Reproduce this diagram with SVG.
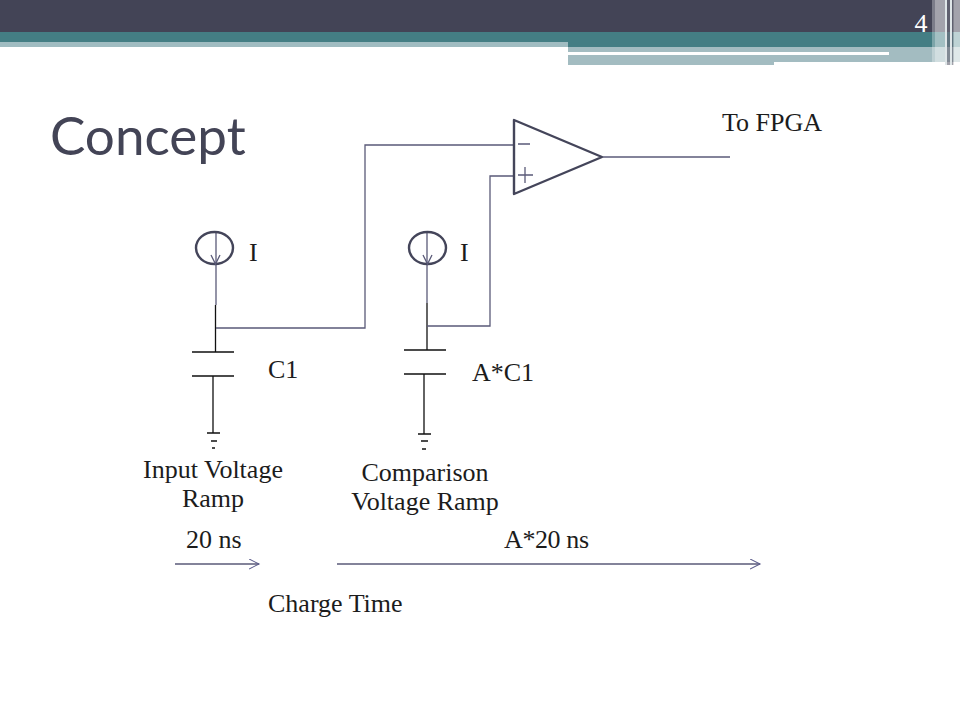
<svg xmlns="http://www.w3.org/2000/svg" width="960" height="720" viewBox="0 0 960 720">
<style>
.t{font-family:"Liberation Serif","DejaVu Serif",serif;font-size:26px;fill:#1c1c1c}
.m{text-anchor:middle}
.k{stroke:#111;stroke-width:1.3;fill:none}
.n{stroke:#5a5a78;stroke-width:1.3;fill:none}
.b{stroke:#44455a;stroke-width:2.4;fill:none}
.w{fill:#fff;fill-opacity:.3}
.d{fill:#434456;fill-opacity:.5}
</style>
<defs>
<marker id="a" markerWidth="12" markerHeight="12" refX="10" refY="5" orient="auto" markerUnits="userSpaceOnUse"><path d="M0 0L10 5L0 10" fill="none" stroke="#5d5d8c" stroke-width="1.1"/></marker>
</defs>
<rect width="960" height="720" fill="#fff"/>
<g id="banner">
<rect width="960" height="32" fill="#434456"/>
<rect y="32" width="960" height="10" fill="#447e84"/>
<rect y="42" width="568" height="5" fill="#a0bcc1"/>
<rect x="568" y="42" width="392" height="5" fill="#447e84"/>
<rect x="568" y="47" width="206" height="18" fill="#a3bcc1"/>
<rect x="774" y="47" width="186" height="15" fill="#a3bcc1"/>
<rect x="568" y="52" width="321" height="3" fill="#fff"/>
<rect x="932" y="0" width="28" height="62" class="w"/>
<rect x="935" y="0" width="10" height="65" class="w"/>
<rect x="945" y="0" width="2" height="65" fill="#dfe6e8"/>
<rect x="947" y="0" width="3" height="65" class="d"/>
<rect x="950" y="0" width="2" height="65" fill="#dfe6e8"/>
<rect x="952" y="0" width="1.500" height="65" class="d"/>
<rect x="953.500" y="0" width="6.500" height="65" class="w"/>
<rect x="953.500" y="32" width="6.500" height="33" class="w"/>
</g>
<text x="921" y="32" font-family="'Liberation Serif',serif" font-size="26" fill="#fff" text-anchor="middle">4</text>
<text x="50" y="155" font-family="Lato,sans-serif" font-size="53" fill="#434456">Concept</text>
<g id="connectors">
<path class="n" d="M216 232V305"/><path class="k" d="M215.500 305V352"/>
<path class="n" d="M216 328H365V145H514"/>
<path class="n" d="M427 232V303"/><path class="k" d="M427 303V350"/>
<path class="n" d="M427 326H490V176H514"/>
<path class="n" d="M603 157H730"/>
<path class="k" d="M213 376V433M424 374V434"/>
<path class="n" d="M175 564H259" marker-end="url(#a)"/>
<path class="n" d="M337 564H760" marker-end="url(#a)"/>
</g>
<g id="source1"><ellipse cx="214.500" cy="248" rx="18.500" ry="16" class="b"/><path class="n" d="M211 255L215.500 264L220 255"/><text class="t" x="249" y="261">I</text></g>
<g id="source2"><ellipse cx="427.500" cy="248" rx="18.500" ry="16" class="b"/><path class="n" d="M423 255L427.500 264L432 255"/><text class="t" x="460" y="261">I</text></g>
<g id="cap1"><path class="k" d="M192 352H234M192 376H234M207 433H220M211 441H217M212 448H215"/><text class="t" x="268" y="378">C1</text></g>
<g id="cap2"><path class="k" d="M404 350H446M404 374H446M418 434H431M421 441H428M422 449H426"/><text class="t" x="472" y="381">A*C1</text></g>
<g id="opamp"><path class="b" d="M514 120V194L602 157Z" stroke-linejoin="round"/><path class="n" d="M518 144H530M518 175H533M525 167V183"/></g>
<text class="t" x="722" y="131">To FPGA</text>
<text class="t m" x="213" y="478">Input Voltage</text>
<text class="t m" x="213" y="507">Ramp</text>
<text class="t m" x="425" y="481">Comparison</text>
<text class="t m" x="425" y="510">Voltage Ramp</text>
<text class="t" x="186" y="548">20 ns</text>
<text class="t" x="504" y="548" textLength="85">A*20 ns</text>
<text class="t" x="268" y="612">Charge Time</text>
</svg>
